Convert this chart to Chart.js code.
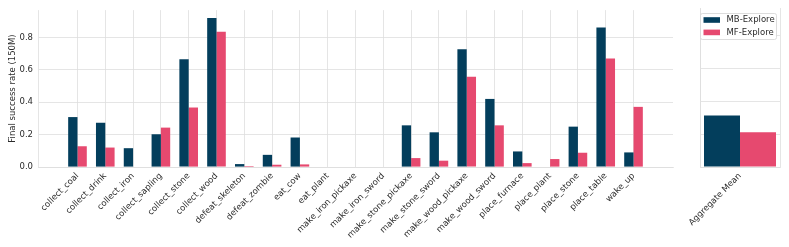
<!DOCTYPE html>
<html>
<head>
<meta charset="utf-8">
<script src="https://cdn.jsdelivr.net/npm/chart.js@4"></script>
<style>
  body { margin: 0; background: #fff; }
  #wrap { position: relative; width: 789px; height: 247px; }
  #mainChart { position: absolute; left: 0; top: 0; }
  #meanChart { position: absolute; left: 640px; top: 0; }
</style>
</head>
<body>
<div id="wrap">
  <canvas id="mainChart" width="680" height="247"></canvas>
  <canvas id="meanChart" width="149" height="247"></canvas>
</div>
<script>
// Data
const categories = ['collect_coal', 'collect_drink', 'collect_iron', 'collect_sapling', 'collect_stone',
  'collect_wood', 'defeat_skeleton', 'defeat_zombie', 'eat_cow', 'eat_plant', 'make_iron_pickaxe',
  'make_iron_sword', 'make_stone_pickaxe', 'make_stone_sword', 'make_wood_pickaxe', 'make_wood_sword',
  'place_furnace', 'place_plant', 'place_stone', 'place_table', 'wake_up'];
const mbExplore = [0.308, 0.273, 0.116, 0.202, 0.665, 0.920, 0.018, 0.075, 0.182, 0, 0,
  0, 0.257, 0.214, 0.726, 0.420, 0.096, 0, 0.249, 0.860, 0.090];
const mfExplore = [0.128, 0.120, 0, 0.243, 0.367, 0.834, 0.006, 0.014, 0.016, 0, 0,
  0, 0.055, 0.039, 0.557, 0.257, 0.024, 0.049, 0.088, 0.669, 0.371];
const meanLabels = ['Aggregate Mean'];
const meanMB = [0.314];
const meanMF = [0.212];
const yTicks = [0, 0.2, 0.4, 0.6, 0.8];
const seriesNames = ['MB-Explore', 'MF-Explore'];

const MB_COLOR = '#033e5c';
const MF_COLOR = '#e6496f';
const GRID = '#dedede';
const TEXT = '#2b2b2b';
const FONT = 'DejaVu Sans';
const Y_MAX = 0.968;

Chart.defaults.font.family = FONT;
Chart.defaults.color = TEXT;
Chart.defaults.animation = false;

function yAxis(showLabels, width) {
  return {
    min: 0, max: Y_MAX,
    afterBuildTicks: s => { s.ticks = yTicks.map(v => ({value: v})); },
    afterFit: s => { s.width = width; },
    ticks: { display: showLabels, padding: 5, font: {size: 8.5}, callback: v => v.toFixed(1) },
    grid: { color: GRID, lineWidth: 0.8, drawTicks: false },
    border: { color: GRID, width: 0.8 }
  };
}

// Main panel
new Chart(document.getElementById('mainChart'), {
  type: 'bar',
  data: {
    datasets: [
      { label: seriesNames[0], data: categories.map((c, i) => ({x: i, y: mbExplore[i]})), backgroundColor: MB_COLOR },
      { label: seriesNames[1], data: categories.map((c, i) => ({x: i, y: mfExplore[i]})), backgroundColor: MF_COLOR }
    ]
  },
  options: {
    responsive: false,
    categoryPercentage: 0.67,
    barPercentage: 1.0,
    layout: { padding: { top: 8, right: 7, left: 0, bottom: 0 } },
    plugins: { legend: { display: false }, tooltip: { enabled: false } },
    scales: {
      x: {
        type: 'linear',
        offset: false,
        min: -1.42, max: categories.length - 1 + 1.42,
        afterBuildTicks: s => { s.ticks = categories.map((c, i) => ({value: i})); },
        afterFit: s => { s.height = 80; },
        ticks: { autoSkip: false, minRotation: 45, maxRotation: 45, padding: 4, font: {size: 8.5},
          callback: v => categories[v] },
        grid: { color: GRID, lineWidth: 0.8, drawTicks: false, offset: false },
        border: { color: GRID, width: 0.8 }
      },
      y: Object.assign(yAxis(true, 38), {
        title: { display: true, text: 'Final success rate (150M)', font: {size: 8.5}, padding: {top: 7.5, bottom: 4} }
      })
    }
  }
});

// Legend drawn inside the small panel, top left, on a white box
const panelLegend = {
  id: 'panelLegend',
  afterDraw(chart) {
    const {ctx, chartArea: a} = chart;
    const x0 = a.left + 0.5, y0 = a.top + 5.5;
    ctx.save();
    ctx.fillStyle = 'rgba(255,255,255,0.95)';
    ctx.strokeStyle = '#d4d4d4';
    ctx.lineWidth = 0.8;
    ctx.beginPath();
    ctx.roundRect(x0, y0, 76, 26, 2);
    ctx.fill();
    ctx.stroke();
    ctx.font = '8.5px ' + FONT;
    ctx.textBaseline = 'middle';
    chart.data.datasets.forEach((ds, i) => {
      const cy = y0 + 6.5 + i * 12.4;
      ctx.fillStyle = ds.backgroundColor;
      ctx.fillRect(x0 + 3, cy - 2.8, 16.5, 5.6);
      ctx.fillStyle = TEXT;
      ctx.fillText(ds.label, x0 + 26, cy);
    });
    ctx.restore();
  }
};

// Aggregate panel
new Chart(document.getElementById('meanChart'), {
  type: 'bar',
  data: {
    labels: meanLabels,
    datasets: [
      { label: seriesNames[0], data: meanMB, backgroundColor: MB_COLOR, borderWidth: 0 },
      { label: seriesNames[1], data: meanMF, backgroundColor: MF_COLOR, borderWidth: 0 }
    ]
  },
  options: {
    responsive: false,
    categoryPercentage: 0.9,
    barPercentage: 1.0,
    layout: { padding: { top: 8, right: 9, left: 0, bottom: 0 } },
    plugins: { legend: { display: false }, tooltip: { enabled: false } },
    scales: {
      x: {
        afterFit: s => { s.height = 80; },
        ticks: { minRotation: 45, maxRotation: 45, padding: 4, font: {size: 8.5} },
        grid: { color: GRID, lineWidth: 0.8, drawTicks: false },
        border: { color: GRID, width: 0.8 }
      },
      y: yAxis(false, 60)
    }
  },
  plugins: [panelLegend]
});
</script>
</body>
</html>
